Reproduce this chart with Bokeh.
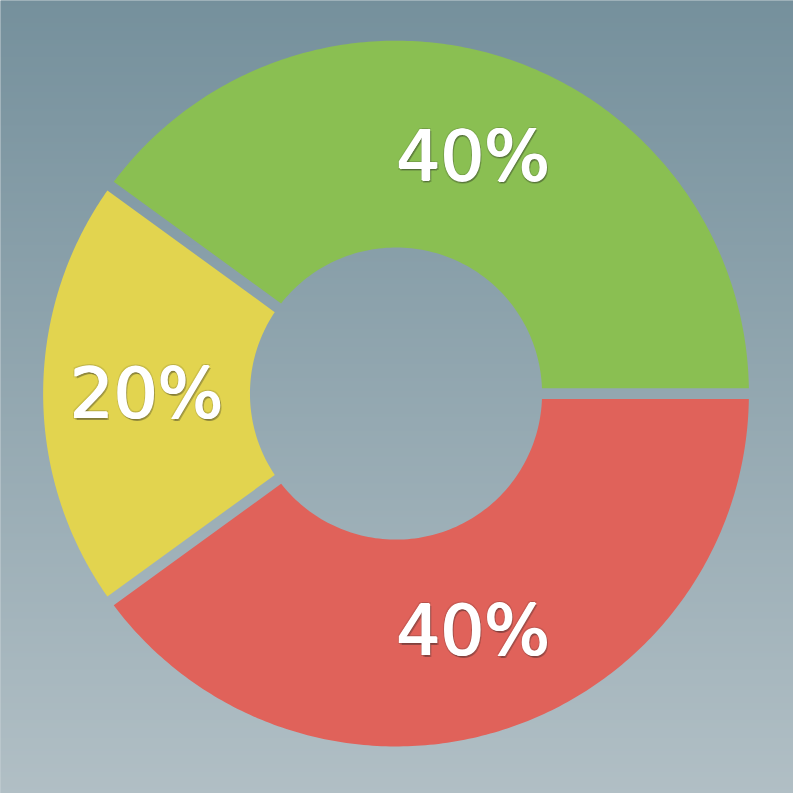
import numpy as np
from bokeh.plotting import figure
from bokeh.models import Range1d, ColumnDataSource
from bokeh.core.properties import value
from bokeh.embed import file_html
from bokeh.resources import INLINE

# Data
labels = ["40%", "20%", "40%"]
values = [40, 20, 40]
colors = ["#8abf52", "#e2d44f", "#e0625a"]

W = H = 793
s = W / 809.0
cx, cy = 403.5 * s, H - 401.0 * s
R_out, R_in = 360.0 * s, 149.0 * s
half_gap = 5.5 * s

p = figure(width=W, height=H, output_backend="svg", toolbar_location=None,
           x_range=Range1d(0, W), y_range=Range1d(0, H), min_border=0)
p.axis.visible = False
p.grid.visible = False
p.outline_line_color = None
p.background_fill_color = "#93a8b1"
p.border_fill_color = "#93a8b1"

# background gradient
top = np.array([0x75, 0x90, 0x9c], dtype=float)
bot = np.array([0xb1, 0xbf, 0xc5], dtype=float)
img = np.zeros((H, 1), dtype=np.uint32)
view = img.view(dtype=np.uint8).reshape((H, 1, 4))
for i in range(H):
    t = (H - i - 0.5) / H
    c = top + (bot - top) * t
    view[i, 0, 0] = int(round(c[0]))
    view[i, 0, 1] = int(round(c[1]))
    view[i, 0, 2] = int(round(c[2]))
    view[i, 0, 3] = 255
p.image_rgba(image=[img], x=-3, y=-3, dw=W + 6, dh=H + 6)

# slices
total = float(sum(values))
xs, ys, lx, ly = [], [], [], []
start = 0.0
for v in values:
    a0 = start
    a1 = start + 2 * np.pi * v / total
    do = np.arcsin(half_gap / R_out)
    di = np.arcsin(half_gap / R_in)
    ao = np.linspace(a0 + do, a1 - do, 200)
    ai = np.linspace(a1 - di, a0 + di, 100)
    px = np.concatenate([cx + R_out * np.cos(ao), cx + R_in * np.cos(ai)])
    py = np.concatenate([cy + R_out * np.sin(ao), cy + R_in * np.sin(ai)])
    xs.append(px.tolist())
    ys.append(py.tolist())
    mid = (a0 + a1) / 2
    rm = (R_out + R_in) / 2
    lx.append(cx + rm * np.cos(mid))
    ly.append(cy + rm * np.sin(mid))
    start = a1

src = ColumnDataSource(dict(xs=xs, ys=ys, color=colors, lx=lx, ly=ly, label=labels))
p.patches("xs", "ys", source=src, fill_color="color", line_color=None)

font = value("DejaVu Sans")
fsize = "69px"
shadow_offsets = [(2, 2, 0.28), (-1.5, 1.5, 0.14), (1.5, -1.5, 0.12), (-1.5, -1.5, 0.10), (0.5, 2.5, 0.18)]
for dx, dy, a in shadow_offsets:
    p.text(x="lx", y="ly", text="label", source=src, text_font=font,
           text_font_size=fsize, text_color="#222222", text_alpha=a,
           text_align="center", text_baseline="middle",
           x_offset=dx, y_offset=dy, text_font_style="normal")
for dx, dy in [(-0.9, 0), (0.9, 0), (0, 0.5), (0, -0.5)]:
    p.text(x="lx", y="ly", text="label", source=src, text_font=font,
           text_font_size=fsize, text_color="#ffffff",
           text_align="center", text_baseline="middle",
           x_offset=dx, y_offset=dy, text_font_style="normal")

open("out.html", "w").write(file_html(p, INLINE))
